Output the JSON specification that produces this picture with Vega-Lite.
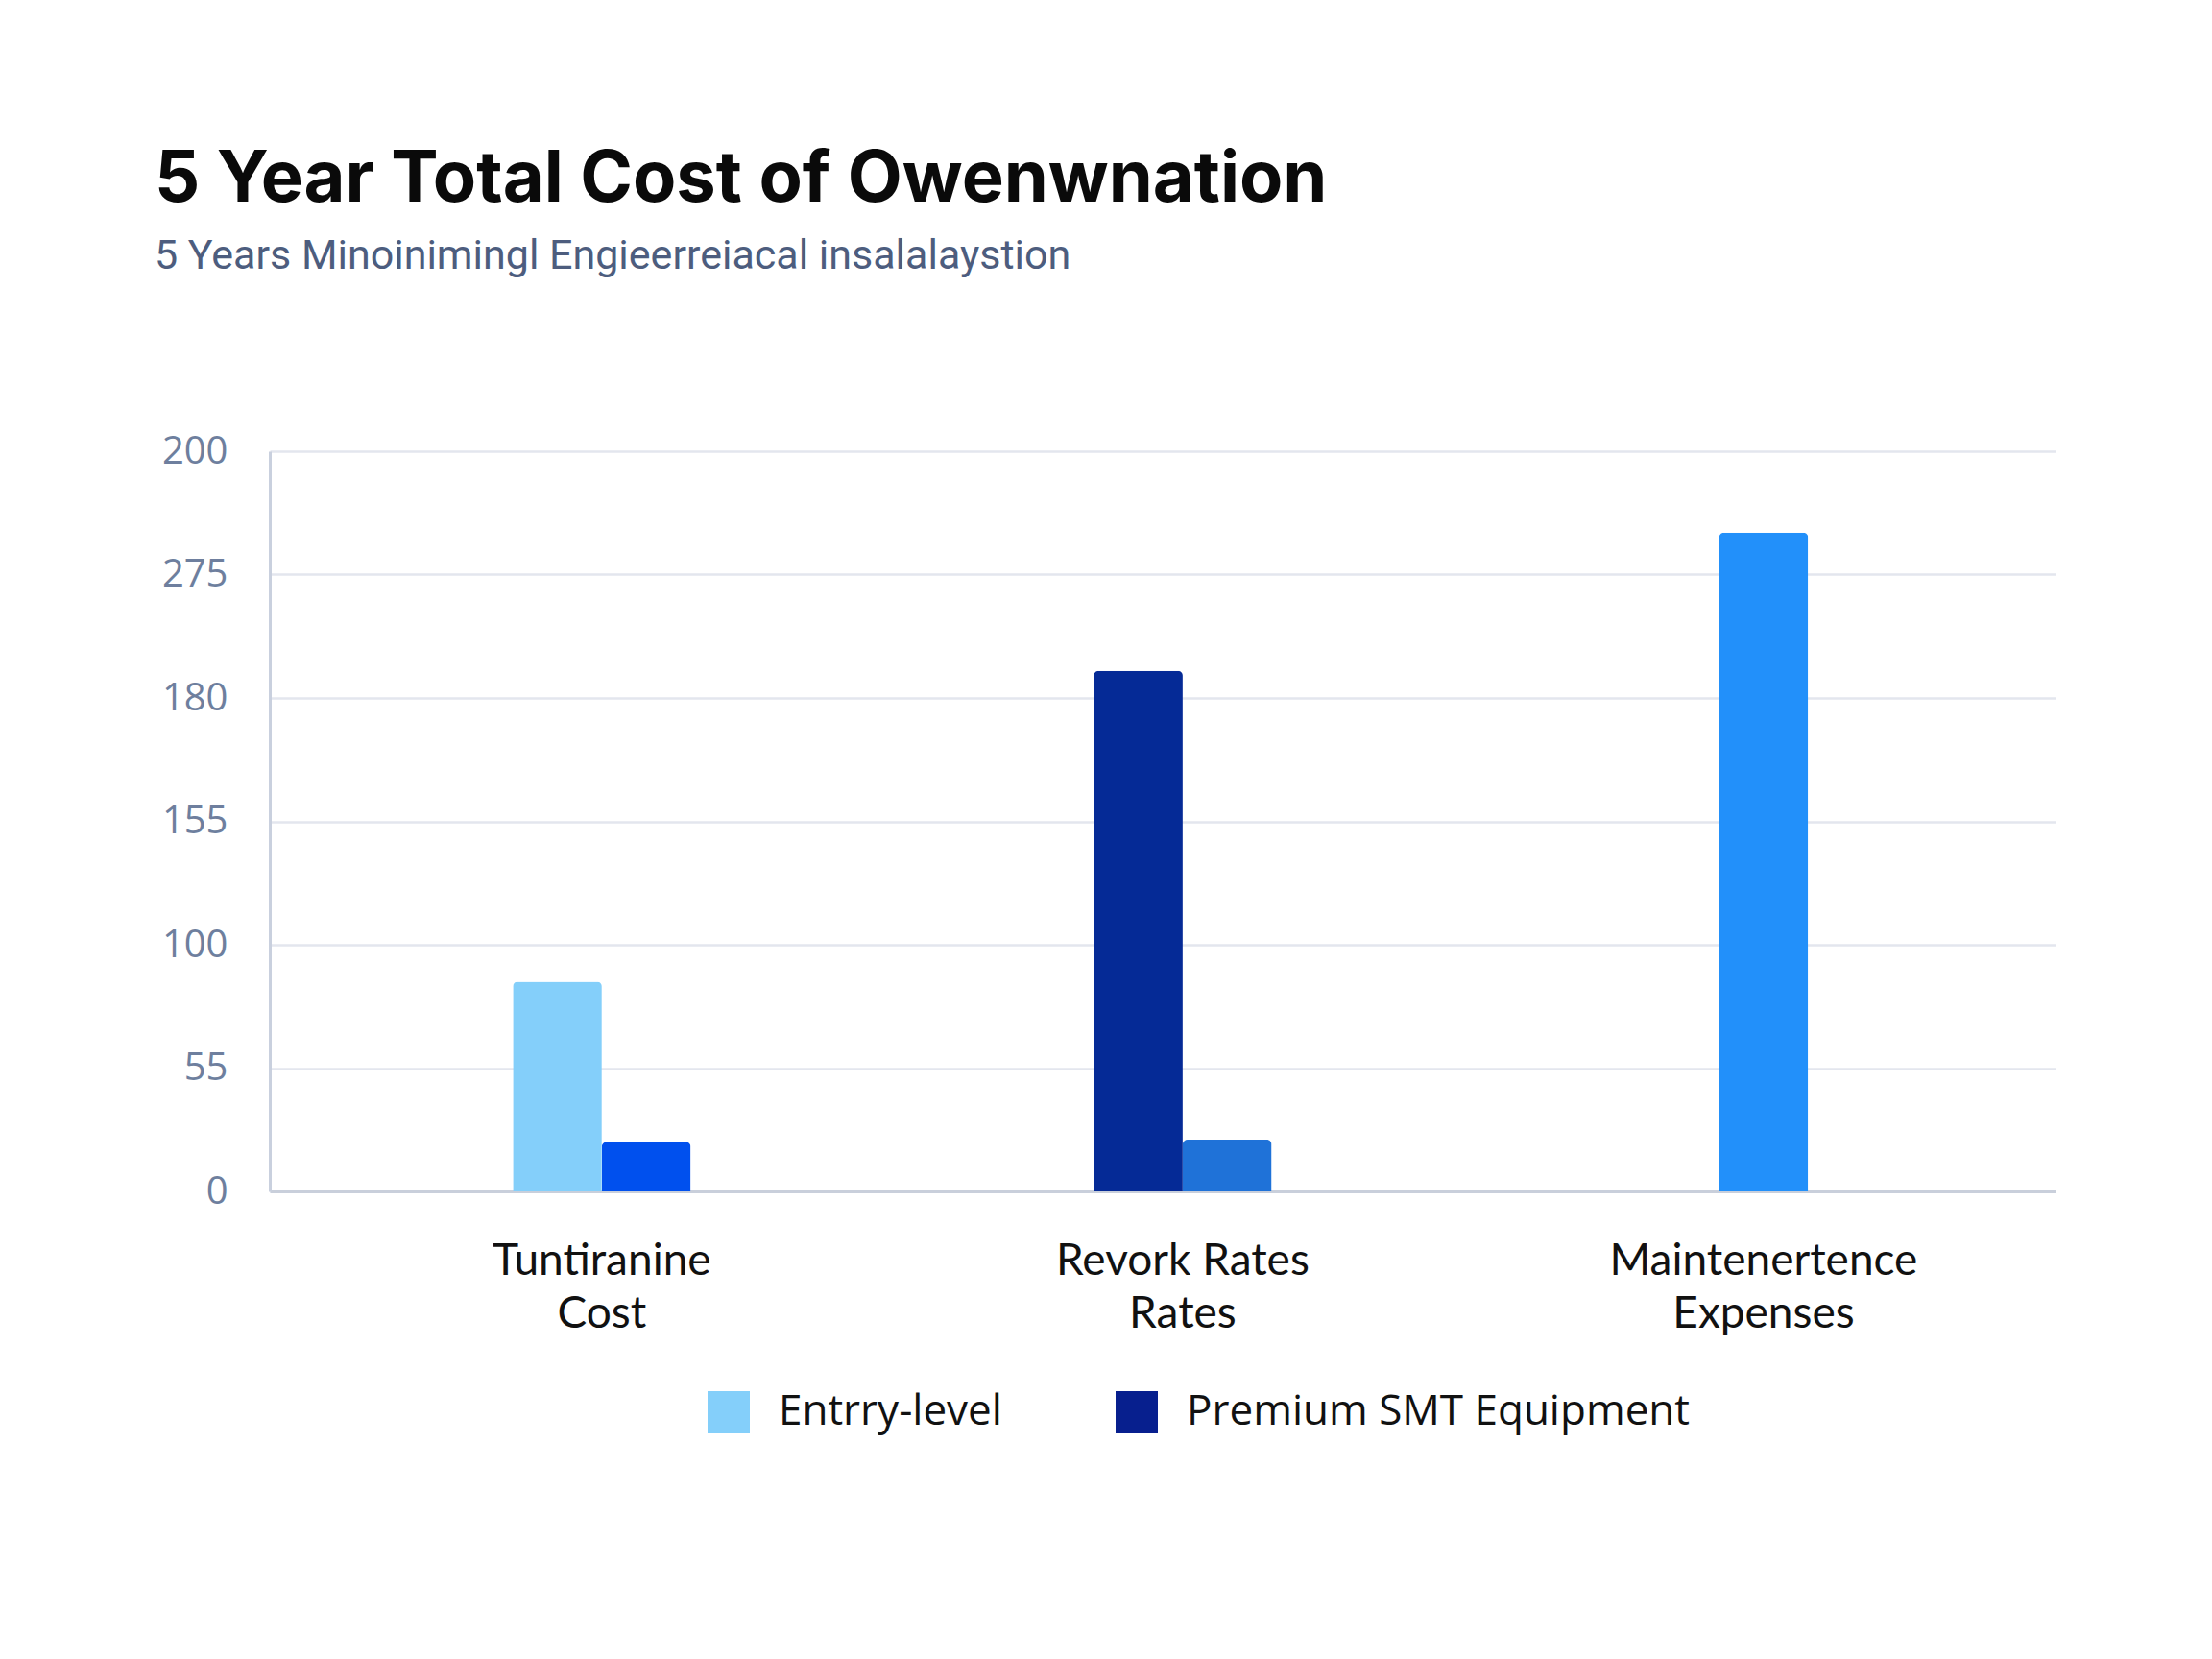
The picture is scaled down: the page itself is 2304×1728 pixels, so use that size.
{
  "$schema": "https://vega.github.io/schema/vega-lite/v6.json",
  "width": 1860,
  "height": 771,
  "autosize": {"type": "none"},
  "padding": {"left": 281, "top": 470, "right": 163, "bottom": 487},
  "background": "white",
  "title": {
    "text": "5 Year Total Cost of Owenwnation",
    "subtitle": "5 Years Minoinimingl Engieerreiacal insalalaystion",
    "anchor": "start",
    "frame": "group",
    "dx": -120,
    "offset": 160,
    "font": "Inter",
    "fontSize": 74,
    "fontWeight": "bold",
    "color": "#0a0a0a",
    "subtitleFont": "Roboto",
    "subtitleFontSize": 43,
    "subtitleColor": "#4d5d7e",
    "subtitlePadding": 20
  },
  "data": {
    "values": [
      {"cost": "Tuntiranine Cost", "tier": "Entrry-level", "value": 85},
      {"cost": "Tuntiranine Cost", "tier": "Premium SMT Equipment", "value": 20},
      {"cost": "Revork Rates Rates", "tier": "Entrry-level", "value": 211},
      {"cost": "Revork Rates Rates", "tier": "Premium SMT Equipment", "value": 21},
      {"cost": "Maintenertence Expenses", "tier": "Entrry-level", "value": 267}
    ]
  },
  "encoding": {
    "x": {
      "field": "cost",
      "type": "nominal",
      "scale": {
        "domain": ["Tuntiranine Cost", "Revork Rates Rates", "Maintenertence Expenses"],
        "paddingInner": 0.694,
        "paddingOuter": 0.384,
        "align": 0.545
      },
      "axis": {
        "title": null,
        "labelAngle": 0,
        "labelLimit": 0,
        "labelExpr": "[slice(datum.label, 0, lastindexof(datum.label, ' ')), slice(datum.label, lastindexof(datum.label, ' ') + 1)]",
        "labelFont": "Lato",
        "labelFontSize": 46,
        "labelColor": "#111111",
        "labelLineHeight": 55,
        "labelPadding": 50,
        "ticks": false,
        "domainColor": "#c9cfdb",
        "domainWidth": 3
      }
    },
    "y": {
      "field": "value",
      "type": "quantitative",
      "scale": {"domain": [0, 300], "nice": false},
      "axis": {
        "title": null,
        "values": [0, 50, 100, 150, 200, 250, 300],
        "labelExpr": "datum.value == 0 ? '0' : datum.value == 50 ? '55' : datum.value == 100 ? '100' : datum.value == 150 ? '155' : datum.value == 200 ? '180' : datum.value == 250 ? '275' : '200'",
        "labelFont": "Open Sans",
        "labelFontSize": 40,
        "labelColor": "#6e7f9e",
        "labelPadding": 44,
        "ticks": false,
        "domainColor": "#c9d0de",
        "domainWidth": 3,
        "gridColor": "#e3e6ee",
        "gridWidth": 2.5
      }
    },
    "color": {
      "field": "tier",
      "type": "nominal",
      "scale": {
        "domain": ["Entrry-level", "Premium SMT Equipment"],
        "range": ["#84cffa", "#071f8e"]
      },
      "legend": {
        "title": null,
        "orient": "none",
        "direction": "horizontal",
        "legendX": 456,
        "legendY": 979,
        "symbolType": "square",
        "symbolSize": 1936,
        "symbolStrokeWidth": 0,
        "labelFont": "Open Sans",
        "labelFontSize": 44,
        "labelLimit": 0,
        "labelColor": "#111111",
        "labelOffset": 30,
        "columnPadding": 118
      },
      "condition": [
        {"test": "datum.cost === 'Tuntiranine Cost' && datum.tier === 'Premium SMT Equipment'", "value": "#0050ee"},
        {"test": "datum.cost === 'Revork Rates Rates' && datum.tier === 'Entrry-level'", "value": "#052a96"},
        {"test": "datum.cost === 'Revork Rates Rates' && datum.tier === 'Premium SMT Equipment'", "value": "#1f72d8"},
        {"test": "datum.cost === 'Maintenertence Expenses'", "value": "#2290fa"}
      ]
    }
  },
  "layer": [
    {
      "transform": [{"filter": "datum.cost !== 'Maintenertence Expenses'"}],
      "mark": {"type": "bar", "cornerRadiusTopLeft": 5, "cornerRadiusTopRight": 5},
      "encoding": {
        "xOffset": {"field": "tier", "type": "nominal", "scale": {"paddingInner": 0, "paddingOuter": 0}}
      }
    },
    {
      "transform": [{"filter": "datum.cost === 'Maintenertence Expenses'"}],
      "mark": {"type": "bar", "width": {"band": 0.5}, "cornerRadiusTopLeft": 5, "cornerRadiusTopRight": 5}
    }
  ],
  "config": {
    "view": {"stroke": null},
    "axis": {"gridColor": "#e3e6ee"}
  }
}
